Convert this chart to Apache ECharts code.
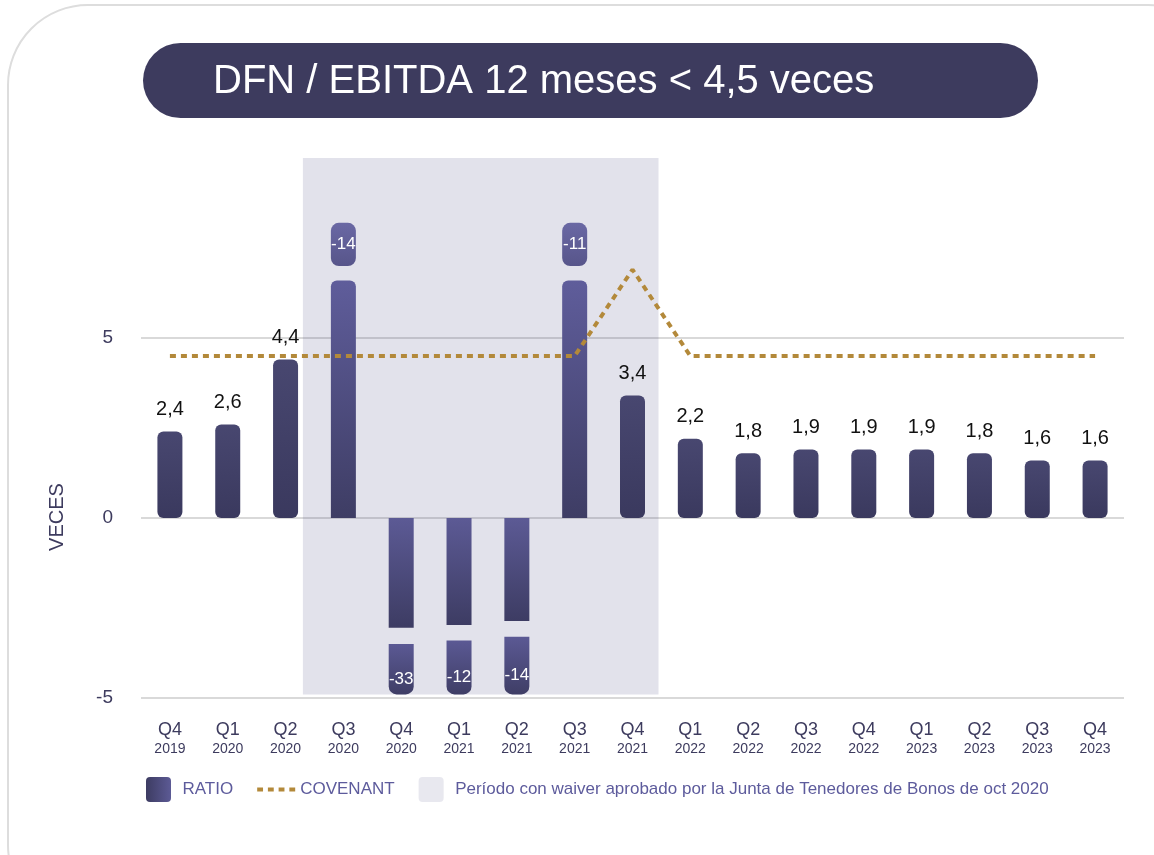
<!DOCTYPE html>
<html>
<head>
<meta charset="utf-8">
<script src="https://cdn.jsdelivr.net/npm/echarts@6/dist/echarts.min.js"></script>
<style>
  html, body { margin: 0; padding: 0; background: #fff; }
  #main { width: 1154px; height: 855px; }
</style>
</head>
<body>
<div id="main"></div>
<script>
// categories
const quarters = ['Q4', 'Q1', 'Q2', 'Q3', 'Q4', 'Q1', 'Q2', 'Q3', 'Q4', 'Q1', 'Q2', 'Q3', 'Q4', 'Q1', 'Q2', 'Q3', 'Q4'];
const years = ['2019', '2020', '2020', '2020', '2020', '2021', '2021', '2021', '2021', '2022', '2022', '2022', '2022', '2023', '2023', '2023', '2023'];
// reported ratio (label text)
const ratioText = ['2,4', '2,6', '4,4', '-14', '-33', '-12', '-14', '-11', '3,4', '2,2', '1,8', '1,9', '1,9', '1,9', '1,8', '1,6', '1,6'];
// drawn bar height (broken bars are cut at the axis)
const ratioBar = [2.4, 2.6, 4.4, 6.6, -3.05, -2.97, -2.86, 6.6, 3.4, 2.2, 1.8, 1.9, 1.9, 1.9, 1.8, 1.6, 1.6];
// the small piece after the break
const capFrom = [null, null, null, 7.0, -3.5, -3.4, -3.3, 7.0, null, null, null, null, null, null, null, null, null];
const capTo = [null, null, null, 8.2, -4.9, -4.9, -4.9, 8.2, null, null, null, null, null, null, null, null, null];
const covenant = [4.5, 4.5, 4.5, 4.5, 4.5, 4.5, 4.5, 4.5, 6.9, 4.5, 4.5, 4.5, 4.5, 4.5, 4.5, 4.5, 4.5];
// waiver period, in category positions (Q3 2020 .. Q4 2021)
const waiverFrom = 2.3;
const waiverTo = 8.45;

const FONT = "'Liberation Sans', Arial, sans-serif";
const NAVY = '#3d3b5e';
const GOLD = '#b3893a';
const waiverName = 'Período con waiver aprobado por la Junta de Tenedores de Bonos de oct 2020';

function grad(top, bottom) {
    return new echarts.graphic.LinearGradient(0, 0, 0, 1, [
        { offset: 0, color: top },
        { offset: 1, color: bottom }
    ]);
}

const categories = quarters.map((q, i) => q + '\n' + years[i]);

const baseData = ratioBar.map((v, i) => {
    const broken = capFrom[i] != null;
    let style;
    if (!broken) {
        style = { color: grad('#484770', '#3a395e'), borderRadius: 6 };
    } else if (v > 0) {
        style = { color: grad('#5f5d9b', '#3e3d64'), borderRadius: [6, 6, 0, 0] };
    } else {
        style = { color: grad('#5c5a95', '#3d3c63'), borderRadius: 0 };
    }
    return { value: v, itemStyle: style };
});

const gapData = ratioBar.map((v, i) => capFrom[i] == null ? null : +(capFrom[i] - v).toFixed(2));

const capData = capFrom.map((c, i) => {
    if (c == null) return null;
    const pos = c > 0;
    return {
        value: +(capTo[i] - c).toFixed(2),
        itemStyle: pos
            ? { color: grad('#6a68a4', '#57558a'), borderRadius: 8 }
            : { color: grad('#5b5994', '#3f3e66'), borderRadius: [0, 0, 8, 8] },
        label: { offset: pos ? [0, 0] : [0, 10] }
    };
});

const squareIcon = 'path://M4,0 H21 A4,4 0 0 1 25,4 V21 A4,4 0 0 1 21,25 H4 A4,4 0 0 1 0,21 V4 A4,4 0 0 1 4,0 Z';
const dashIcon = 'path://M0,0h6v4h-6z M11,0h6v4h-6z M22,0h6v4h-6z M33,0h6v4h-6z';

const chart = echarts.init(document.getElementById('main'));
chart.setOption({
    animation: false,
    textStyle: { fontFamily: FONT },
    graphic: [
        {
            type: 'rect', z: -10, silent: true,
            shape: { x: 8, y: 5, width: 1220, height: 920, r: 80 },
            style: { fill: 'none', stroke: '#dddddd', lineWidth: 2 }
        },
        {
            type: 'rect', silent: true,
            shape: { x: 143, y: 43, width: 895, height: 75, r: 37.5 },
            style: { fill: NAVY }
        },
        {
            type: 'text', silent: true, x: 213, y: 82,
            style: {
                text: 'DFN / EBITDA 12 meses < 4,5 veces',
                fill: '#ffffff', font: '40px ' + FONT, verticalAlign: 'middle'
            }
        },
        {
            type: 'text', silent: true, x: 57, y: 517, rotation: Math.PI / 2,
            style: {
                text: 'VECES', fill: NAVY, font: '20px ' + FONT,
                align: 'center', verticalAlign: 'middle'
            }
        }
    ],
    legend: {
        left: 141,
        top: 772,
        itemWidth: 38,
        itemHeight: 25,
        itemGap: 24,
        selectedMode: false,
        textStyle: { color: '#5d5b9c', fontSize: 17, fontFamily: FONT },
        data: [
            {
                name: 'RATIO', icon: squareIcon,
                itemStyle: {
                    color: new echarts.graphic.LinearGradient(0, 0, 1, 0, [
                        { offset: 0, color: '#3d3c62' }, { offset: 1, color: '#5c5a95' }
                    ])
                }
            },
            { name: 'COVENANT', icon: dashIcon, itemStyle: { color: GOLD } },
            { name: waiverName, icon: squareIcon }
        ]
    },
    grid: { left: 141, right: 30, top: 158, bottom: 157 },
    xAxis: [
        {
            type: 'category',
            data: categories,
            axisLine: { show: false },
            axisTick: { show: false },
            axisLabel: {
                margin: 22,
                formatter: v => {
                    const p = v.split('\n');
                    return '{q|' + p[0] + '}\n{y|' + p[1] + '}';
                },
                rich: {
                    q: { fontSize: 18, color: NAVY, lineHeight: 20, fontFamily: FONT },
                    y: { fontSize: 14, color: NAVY, lineHeight: 18, fontFamily: FONT }
                }
            }
        },
        { type: 'value', min: -0.5, max: 16.5, show: false }
    ],
    yAxis: {
        type: 'value',
        min: -5,
        max: 10,
        interval: 5,
        axisLine: { show: false },
        axisTick: { show: false },
        axisLabel: {
            fontSize: 19, color: NAVY, margin: 28,
            formatter: v => v === 10 ? '' : String(v)
        },
        splitLine: {
            lineStyle: { color: ['#d9d9d9', '#d9d9d9', '#d9d9d9', 'transparent'], width: 2 }
        }
    },
    series: [
        {
            name: waiverName,
            type: 'scatter',
            xAxisIndex: 1,
            data: [],
            z: 1,
            itemStyle: { color: 'rgba(60,60,120,0.15)' },
            markArea: {
                silent: true,
                itemStyle: { color: 'rgba(60,60,120,0.15)' },
                data: [[{ xAxis: waiverFrom, yAxis: 10 }, { xAxis: waiverTo, yAxis: -4.9 }]]
            }
        },
        {
            name: 'RATIO',
            type: 'bar',
            stack: 'r',
            barWidth: 25,
            z: 3,
            itemStyle: { color: '#3d3c62' },
            data: baseData,
            label: {
                show: true,
                position: 'top',
                distance: 12,
                color: '#111111',
                fontSize: 20,
                fontFamily: FONT,
                formatter: p => capFrom[p.dataIndex] == null ? ratioText[p.dataIndex] : ''
            }
        },
        {
            name: 'gap',
            type: 'bar',
            stack: 'r',
            barWidth: 25,
            silent: true,
            itemStyle: { color: 'transparent' },
            data: gapData
        },
        {
            name: 'cap',
            type: 'bar',
            stack: 'r',
            barWidth: 25,
            z: 3,
            data: capData,
            label: {
                show: true,
                position: 'inside',
                color: '#ffffff',
                fontSize: 17,
                fontFamily: FONT,
                formatter: p => ratioText[p.dataIndex]
            }
        },
        {
            name: 'COVENANT',
            type: 'line',
            data: covenant,
            symbol: 'none',
            z: 4,
            itemStyle: { color: GOLD },
            lineStyle: { color: GOLD, width: 4, type: [6, 5] }
        }
    ]
});
</script>
</body>
</html>
